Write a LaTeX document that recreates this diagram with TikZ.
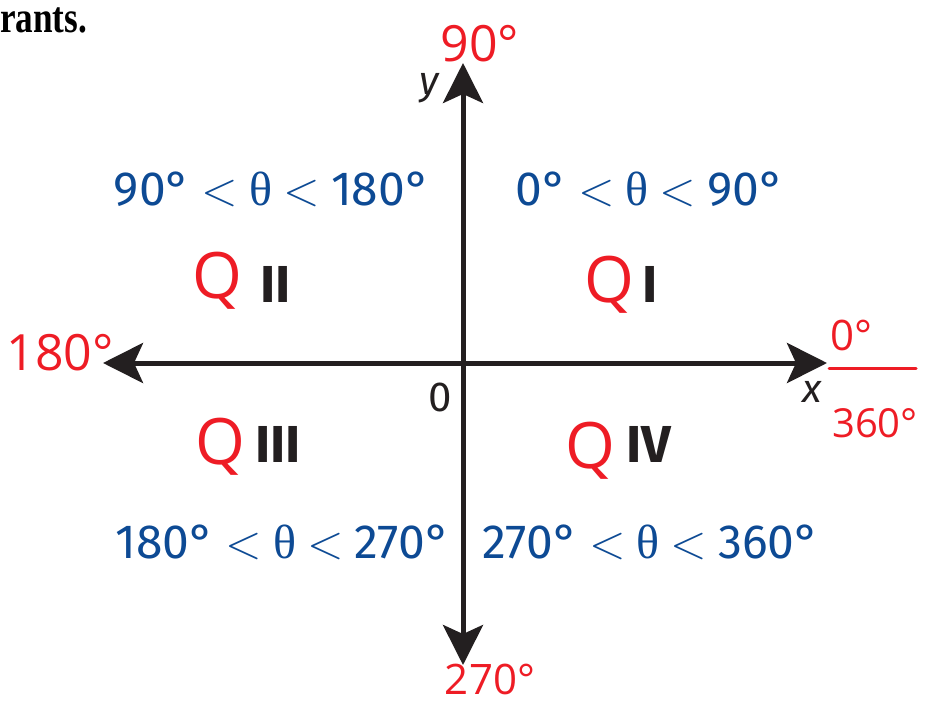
\RequirePackage{fix-cm}
\documentclass[tikz,border=0pt]{standalone}
\usepackage{fontspec}
\setmainfont{Fira Sans}
\newfontfamily\serifbold{Liberation Serif}
\newfontfamily\thetafont{Liberation Serif}
\newfontfamily\handfont{Open Sans}
\usetikzlibrary{arrows.meta}
\definecolor{axisblack}{HTML}{231F20}
\definecolor{rangeblue}{HTML}{0D4A94}
\definecolor{inkred}{HTML}{EE1C25}
\newcommand{\thet}{{\thetafont θ}}
\newcommand{\lessgap}{\hspace{11pt}$<$\hspace{11pt}}
\begin{document}
\begin{tikzpicture}[x=1pt,y=-1pt,
  axisline/.style={line width=5pt,draw=axisblack,
    {Stealth[length=40pt,width=40pt,inset=9pt]}-{Stealth[length=40pt,width=40pt,inset=9pt]}},
  rangetext/.style={text=rangeblue,font=\fontsize{48}{50}\selectfont,anchor=base,inner sep=0pt},
  quadtext/.style={text=axisblack,font=\fontsize{52}{54}\selectfont\bfseries,anchor=base west,inner sep=0pt},
  axislabel/.style={text=axisblack,font=\fontsize{42}{44}\selectfont,inner sep=0pt},
  redtext/.style={text=inkred,font=\handfont\fontsize{50}{52}\selectfont,inner sep=0pt,anchor=base},
  redq/.style={text=inkred,font=\handfont\fontsize{64}{66}\selectfont,inner sep=0pt,anchor=base}]
\useasboundingbox (0,0) rectangle (925,706);
% heading fragment
\node[anchor=base west,inner sep=0pt,font=\serifbold\bfseries\fontsize{44}{46}\selectfont] (head) at (0,33) {\scalebox{0.8}[1]{rants.}};
% axes
\coordinate (xl) at (103,363);
\coordinate (xr) at (827,363);
\coordinate (yt) at (463,63);
\coordinate (yb) at (463,665);
\draw[axisline] (xl) -- (xr);
\draw[axisline] (yb) -- (yt);
\node[axislabel,font=\fontsize{40}{42}\selectfont\itshape] (ylab) at (429,88) {y};
\node[axislabel,font=\fontsize{40}{42}\selectfont\itshape] (xlab) at (812,392) {x};
\node[axislabel] (olab) at (440,397) {0};
% ranges
\node[rangetext] (r1) at (650,205) {0°\lessgap\thet\lessgap90°};
\node[rangetext] (r2) at (272,205) {90°\lessgap\thet\lessgap180°};
\node[rangetext] (r3) at (283,558) {180°\lessgap\thet\lessgap270°};
\node[rangetext] (r4) at (651,558) {270°\lessgap\thet\lessgap360°};
% quadrant numerals
\node[quadtext] (q2) at (260,302) {II};
\node[quadtext] (q1) at (642,302) {I};
\node[quadtext] (q3) at (255,462) {III};
\node[quadtext] (q4) at (626,462) {IV};
% red handwritten annotations
\node[redq] (q2q) at (217,298) {Q};
\node[redq] (q1q) at (609,302) {Q};
\node[redq] (q3q) at (220,464) {Q};
\node[redq] (q4q) at (590,468) {Q};
\node[redtext] (a90) at (480,62) {90°};
\node[redtext] (a180) at (60,370) {180°};
\node[redtext,font=\handfont\fontsize{42}{44}\selectfont] (a0) at (851,350) {0°};
\node[redtext,font=\handfont\fontsize{40}{42}\selectfont] (a360) at (875,437) {360°};
\node[redtext,font=\handfont\fontsize{42}{44}\selectfont] (a270) at (490,694) {270°};
\coordinate (fl) at (829,368);
\coordinate (fr) at (916,368);
\draw[inkred,line width=3pt,line cap=round] (fl) -- (fr);
\end{tikzpicture}
\end{document}
